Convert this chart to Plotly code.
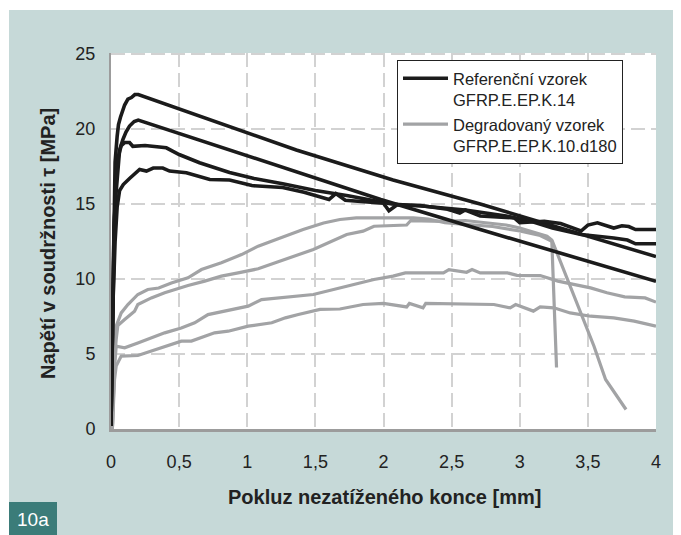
import plotly.graph_objects as go

# ---- data ----
# Referenční vzorek GFRP.E.EP.K.14 (black curves)
ref_a_x = [0, 0.012, 0.02, 0.03, 0.045, 0.055, 0.07, 0.087, 0.1, 0.124, 0.15, 0.175, 0.2, 1.36, 2.07, 2.71, 4.0]
ref_a_y = [0.2, 8, 14, 17.8, 19.5, 20.3, 20.8, 21.3, 21.6, 22.0, 22.1, 22.3, 22.3, 18.6, 16.6, 15.0, 11.5]

ref_b_x = [0, 0.012, 0.022, 0.035, 0.05, 0.063, 0.087, 0.11, 0.136, 0.17, 0.2, 1.24, 1.98, 2.71, 4.0]
ref_b_y = [0.2, 8, 13.5, 15.5, 17.5, 18.6, 19.3, 19.8, 20.2, 20.5, 20.6, 17.5, 15.3, 13.3, 9.85]

ref_c_x = [0, 0.013, 0.025, 0.04, 0.055, 0.075, 0.1, 0.136, 0.16, 0.25, 0.33, 0.406, 0.5, 0.65, 0.87,
           1.05, 1.26, 1.5, 1.74, 2.06, 2.3, 2.6, 2.9, 3.1, 3.24, 3.45, 3.69, 3.79, 3.85, 4.0]
ref_c_y = [0.2, 9, 14, 17.3, 18.2, 18.9, 19.1, 19.1, 18.85, 18.9, 18.85, 18.75, 18.3, 17.75, 17.1,
           16.7, 16.35, 15.9, 15.55, 15.0, 14.85, 14.6, 14.2, 13.8, 13.4, 12.97, 12.74, 12.6, 12.35, 12.35]

ref_d_x = [0, 0.013, 0.03, 0.045, 0.063, 0.09, 0.136, 0.17, 0.21, 0.26, 0.31, 0.38, 0.43, 0.553, 0.65,
           0.725, 0.87, 1.034, 1.26, 1.417, 1.6, 1.65, 1.72, 2.0, 2.04, 2.1, 2.27, 2.47, 2.56, 2.6,
           2.71, 2.96, 3.0, 3.18, 3.3, 3.45, 3.5, 3.57, 3.69, 3.75, 3.8, 3.85, 4.0]
ref_d_y = [0.2, 8, 12.5, 14.8, 15.9, 16.3, 16.7, 17.0, 17.3, 17.2, 17.4, 17.4, 17.2, 17.08, 16.86,
           16.63, 16.6, 16.23, 16.1, 15.78, 15.3, 15.7, 15.25, 15.06, 14.55, 14.95, 14.9, 14.65, 14.4, 14.6,
           14.2, 14.08, 13.75, 13.85, 13.7, 13.2, 13.6, 13.75, 13.4, 13.55, 13.5, 13.3, 13.3]

# Degradovaný vzorek GFRP.E.EP.K.10.d180 (grey curves)
deg_1_x = [0.01, 0.02, 0.038, 0.075, 0.124, 0.197, 0.27, 0.35, 0.443, 0.565, 0.664, 0.81, 0.958, 1.08,
           1.227, 1.41, 1.56, 1.68, 1.8, 2.22, 2.33, 2.45, 2.6, 2.8, 3.0, 3.15, 3.24, 3.35, 3.45, 3.545,
           3.63, 3.78]
deg_1_y = [0, 4.5, 6.86, 7.74, 8.3, 8.97, 9.3, 9.4, 9.74, 10.08, 10.63, 11.08, 11.63, 12.19,
           12.68, 13.3, 13.74, 13.97, 14.08, 14.08, 14.0, 13.75, 13.65, 13.5, 13.2, 12.9, 12.5, 9.97, 7.75, 5.52,
           3.3, 1.3]

deg_2_x = [0.01, 0.025, 0.038, 0.05, 0.1, 0.173, 0.197, 0.296, 0.394, 0.504, 0.565, 0.688, 0.81, 0.933,
           1.08, 1.227, 1.485, 1.73, 1.85, 1.93, 2.17, 2.2, 2.44, 2.6, 2.75, 2.9, 3.0, 3.1, 3.2, 3.235, 3.27]
deg_2_y = [0, 4.5, 5.97, 6.9, 7.3, 7.86, 8.3, 8.74, 9.08, 9.41, 9.57, 9.86, 10.19, 10.41,
           10.68, 11.15, 11.97, 12.97, 13.19, 13.52, 13.6, 13.9, 13.85, 13.9, 13.75, 13.6, 13.4, 13.1, 12.85, 12.6, 4.1]

deg_3_x = [0.01, 0.025, 0.038, 0.1, 0.197, 0.32, 0.394, 0.516, 0.614, 0.712, 0.835, 0.933, 1.007, 1.105,
           1.25, 1.485, 1.73, 1.93, 2.07, 2.16, 2.44, 2.48, 2.61, 2.65, 2.71, 2.91, 2.98, 3.15, 3.28, 3.52,
           3.64, 3.77, 3.92, 4.0]
deg_3_y = [0, 4.0, 5.52, 5.41, 5.74, 6.19, 6.41, 6.74, 7.08, 7.63, 7.86, 8.08, 8.19, 8.63,
           8.74, 8.97, 9.52, 9.97, 10.19, 10.41, 10.41, 10.63, 10.45, 10.63, 10.41, 10.41, 10.24, 10.23, 9.86, 9.41,
           9.08, 8.81, 8.74, 8.46]

deg_4_x = [0.01, 0.026, 0.038, 0.075, 0.197, 0.32, 0.516, 0.59, 0.76, 0.86, 1.007, 1.18, 1.28, 1.375,
           1.534, 1.68, 1.85, 2.0, 2.17, 2.19, 2.29, 2.31, 2.81, 2.93, 2.97, 3.1, 3.15, 3.25, 3.37, 3.52,
           3.69, 3.84, 4.0]
deg_4_y = [0, 3.3, 4.2, 4.86, 4.9, 5.26, 5.86, 5.86, 6.41, 6.52, 6.86, 7.08, 7.41, 7.63,
           7.97, 8.0, 8.3, 8.37, 8.14, 8.37, 8.08, 8.37, 8.3, 8.08, 8.3, 7.86, 8.14, 8.08, 7.74, 7.52,
           7.41, 7.19, 6.86]

x_tickvals = [0, 0.5, 1, 1.5, 2, 2.5, 3, 3.5, 4]
x_ticktext = ["0", "0,5", "1", "1,5", "2", "2,5", "3", "3,5", "4"]
y_tickvals = [0, 5, 10, 15, 20, 25]
y_ticktext = ["0", "5", "10", "15", "20", "25"]

ref_name = "Referenční vzorek<br>GFRP.E.EP.K.14"
deg_name = "Degradovaný vzorek<br>GFRP.E.EP.K.10.d180"
x_title = "Pokluz nezatíženého konce [mm]"
y_title = "Napětí v soudržnosti τ [MPa]"
panel_label = "10a"

# ---- styling ----
FONT = "Liberation Sans, Arial, Helvetica, sans-serif"
BLACK = "#1b1b1b"
GREY = "#a2a3a5"
TEAL_BG = "#c6d9d8"
TEAL_DARK = "#3b7c79"

# the page body has an 8px margin; the figure is sized so it ends at the window edge
OFF = 8
WIN_W, WIN_H = 681, 535
W, H = WIN_W - OFF, WIN_H - OFF
# plot area in window pixels: x 111..656, y 53..429
ML, MR, MT, MB = 111 - OFF, WIN_W - 656, 53 - OFF, WIN_H - 429
PW, PH = W - ML - MR, H - MT - MB


def px2x(px):
    return (px - OFF - ML) / PW


def py2y(py):
    return (WIN_H - MB - py) / PH


fig = go.Figure()

grey_sets = [(deg_1_x, deg_1_y), (deg_2_x, deg_2_y), (deg_3_x, deg_3_y), (deg_4_x, deg_4_y)]
black_sets = [(ref_a_x, ref_a_y), (ref_b_x, ref_b_y), (ref_c_x, ref_c_y), (ref_d_x, ref_d_y)]

for i, (xs, ys) in enumerate(grey_sets):
    fig.add_trace(go.Scatter(
        x=xs, y=ys, mode="lines", name=deg_name, legendgroup="deg",
        showlegend=(i == 0), legendrank=2,
        line=dict(color=GREY, width=3.2),
    ))

for i, (xs, ys) in enumerate(black_sets):
    fig.add_trace(go.Scatter(
        x=xs, y=ys, mode="lines", name=ref_name, legendgroup="ref",
        showlegend=(i == 0), legendrank=1,
        line=dict(color=BLACK, width=3.6),
    ))

fig.update_layout(
    width=W, height=H,
    margin=dict(l=ML, r=MR, t=MT, b=MB, pad=0),
    paper_bgcolor=TEAL_BG,
    plot_bgcolor="white",
    font=dict(family=FONT, color="#222222"),
    showlegend=True,
    legend=dict(
        x=px2x(397), y=py2y(60), xanchor="left", yanchor="top",
        bgcolor="white", bordercolor="#222222", borderwidth=1,
        font=dict(family=FONT, size=16.5, color="#222222"),
        valign="top", itemwidth=45, tracegroupgap=0,
        traceorder="normal",
    ),
    xaxis=dict(
        range=[0, 4], tickvals=x_tickvals, ticktext=x_ticktext,
        showgrid=True, gridcolor="#d2d2d2", gridwidth=1.5, griddash="14px,6px",
        zeroline=False, showline=True, linecolor="#9c9c9c", linewidth=3,
        ticks="", tickfont=dict(family=FONT, size=18, color="#222222"),
        ticklabelstandoff=14,
    ),
    yaxis=dict(
        range=[0, 25.07], tickvals=y_tickvals, ticktext=y_ticktext,
        showgrid=True, gridcolor="#d2d2d2", gridwidth=1.5, griddash="14px,6px",
        zeroline=False, showline=True, linecolor="#9c9c9c", linewidth=2,
        ticks="", tickfont=dict(family=FONT, size=18, color="#222222"),
        ticklabelstandoff=10,
    ),
    shapes=[
        # thin white strips at the top and left (beyond the page's own white margin)
        dict(type="rect", xref="paper", yref="paper", layer="above",
             x0=px2x(0), x1=px2x(WIN_W + 2), y0=py2y(10), y1=py2y(0),
             fillcolor="white", line=dict(width=0)),
        dict(type="rect", xref="paper", yref="paper", layer="above",
             x0=px2x(0), x1=px2x(9), y0=py2y(WIN_H + 2), y1=py2y(0),
             fillcolor="white", line=dict(width=0)),
        dict(type="rect", xref="paper", yref="paper", layer="above",
             x0=px2x(9), x1=px2x(57), y0=py2y(WIN_H + 2), y1=py2y(502),
             fillcolor=TEAL_DARK, line=dict(width=0)),
    ],
    annotations=[
        dict(text="<b>" + x_title + "</b>", xref="paper", yref="paper",
             x=px2x(384), y=py2y(497), xanchor="center", yanchor="middle",
             showarrow=False, font=dict(family=FONT, size=20, color="#222222")),
        dict(text="<b>" + y_title + "</b>", xref="paper", yref="paper",
             x=px2x(48), y=py2y(244), xanchor="center", yanchor="middle",
             textangle=-90, showarrow=False,
             font=dict(family=FONT, size=20, color="#222222")),
        dict(text=panel_label, xref="paper", yref="paper",
             x=px2x(33), y=py2y(519), xanchor="center", yanchor="middle",
             showarrow=False, font=dict(family=FONT, size=19, color="white")),
    ],
)

fig.write_html("out.html")
